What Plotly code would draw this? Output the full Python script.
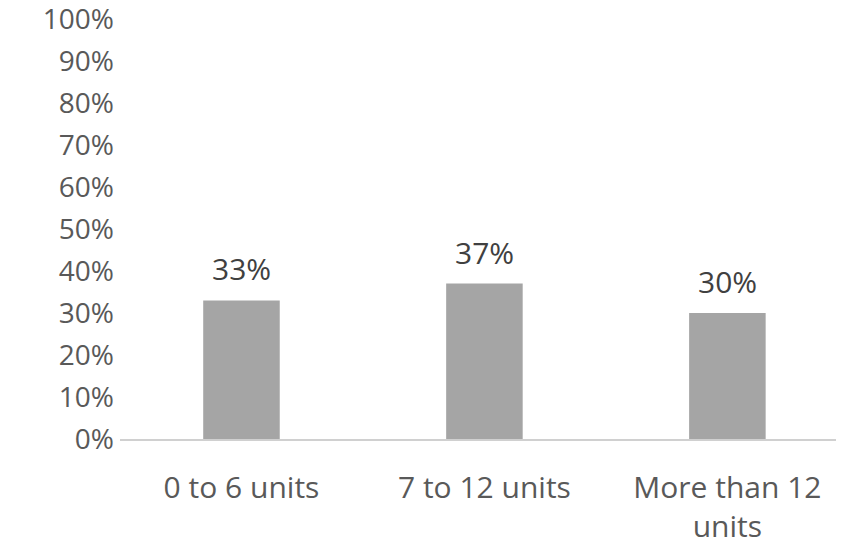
import plotly.graph_objects as go

categories = ["0 to 6 units", "7 to 12 units", "More than 12<br>units"]
values = [0.33, 0.37, 0.30]
labels = ["33%", "37%", "30%"]
tick_vals = [i / 10 for i in range(11)]
tick_text = [f"{i*10}%" for i in range(11)]

FONT = "Open Sans"
fig = go.Figure()
fig.add_trace(go.Bar(
    x=categories, y=values,
    marker=dict(color="#a5a5a5", line=dict(width=0)),
    width=0.315,
    hoverinfo="skip",
))
for c, v, t in zip(categories, values, labels):
    fig.add_annotation(x=c, y=v, text=t, showarrow=False, yanchor="bottom", yshift=9,
                       font=dict(family=FONT, size=30, color="#404040"))

# page body has an 8px default margin, so the figure is sized/offset to compensate
fig.update_layout(
    width=836, height=532,
    margin=dict(l=112, r=0, t=11, b=101),
    paper_bgcolor="white", plot_bgcolor="white",
    showlegend=False,
    xaxis=dict(
        range=[-0.5, 2.48],
        showline=True, linecolor="#d0d0d0", linewidth=2,
        showgrid=False, ticks="",
        tickfont=dict(family=FONT, size=30, color="#595959"),
        ticklabelstandoff=21,
        ticklabeloverflow="allow",
        automargin=False,
        fixedrange=True,
    ),
    yaxis=dict(
        range=[0, 1.0],
        tickvals=tick_vals, ticktext=tick_text,
        showgrid=False, showline=False, zeroline=False, ticks="",
        tickfont=dict(family=FONT, size=28, color="#595959"),
        ticklabelstandoff=5,
        ticklabeloverflow="allow",
        automargin=False,
        fixedrange=True,
    ),
)
fig.write_html("out.html")
